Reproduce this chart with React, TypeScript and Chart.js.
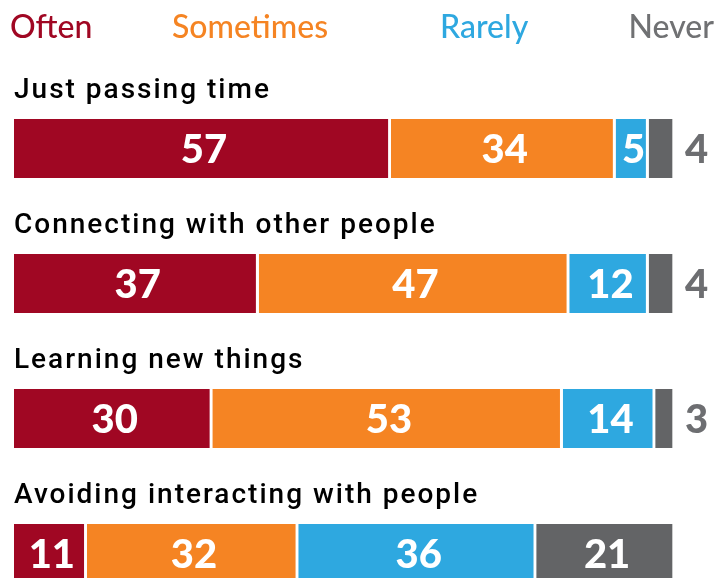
import React, { useEffect, useRef } from "react";
import { Chart, registerables } from "chart.js";

Chart.register(...registerables);

const categories = [
  "Just passing time",
  "Connecting with other people",
  "Learning new things",
  "Avoiding interacting with people",
];
const seriesNames = ["Often", "Sometimes", "Rarely", "Never"];
const often = [57, 37, 30, 11];
const sometimes = [34, 47, 53, 32];
const rarely = [5, 12, 14, 36];
const never = [4, 4, 3, 21];

const barColors = ["#A00723", "#F58423", "#2EA8E0", "#636466"];
const legendColors = ["#A00723", "#F58423", "#2EA8E0", "#707173"];
const GAP = 3;

const labelPlugin = {
  id: "labelPlugin",
  afterDatasetsDraw(chart: any) {
    const ctx = chart.ctx;
    ctx.save();
    // legend
    ctx.font = "500 32px Lato";
    ctx.textBaseline = "middle";
    const legendAnchors = [
      { x: 10, align: "left" },
      { x: 172, align: "left" },
      { x: 440, align: "left" },
      { x: 714, align: "right" },
    ];
    seriesNames.forEach((n, i) => {
      ctx.fillStyle = legendColors[i];
      ctx.textAlign = legendAnchors[i].align;
      ctx.fillText(n, legendAnchors[i].x, 28);
    });

    // category labels
    const meta0 = chart.getDatasetMeta(0);
    ctx.font = "500 28px Roboto";
    try {
      (ctx as any).letterSpacing = "2px";
    } catch (e) {}
    ctx.fillStyle = "#000";
    ctx.textAlign = "left";
    ctx.textBaseline = "alphabetic";
    meta0.data.forEach((el: any, i: number) => {
      const top = el.y - el.height / 2;
      ctx.fillText(categories[i], 14, top - 21);
    });
    try {
      (ctx as any).letterSpacing = "0px";
    } catch (e) {}

    // value labels
    ctx.font = "900 40px Lato";
    ctx.textBaseline = "middle";
    chart.data.datasets.forEach((ds: any, di: number) => {
      const meta = chart.getDatasetMeta(di);
      meta.data.forEach((el: any, i: number) => {
        const v = ds.data[i];
        const left = Math.min(el.base, el.x);
        const right = Math.max(el.base, el.x) - GAP;
        const w = right - left;
        const txt = String(v);
        const tw = ctx.measureText(txt).width;
        if (di === 3 && tw + 6 > w) {
          ctx.fillStyle = "#6D6E71";
          ctx.textAlign = "left";
          ctx.fillText(txt, Math.max(el.base, el.x) + 10, el.y + 2);
        } else {
          ctx.fillStyle = "#FFFFFF";
          ctx.textAlign = "center";
          ctx.fillText(txt, (left + right) / 2 + 3, el.y + 2);
        }
      });
    });
    ctx.restore();
  },
};

export default function App() {
  const ref = useRef<HTMLCanvasElement | null>(null);
  useEffect(() => {
    if (!ref.current) return;
    const values = [often, sometimes, rarely, never];
    const chart = new Chart(ref.current, {
      type: "bar",
      data: {
        labels: categories,
        datasets: seriesNames.map((n, i) => ({
          label: n,
          data: values[i],
          backgroundColor: barColors[i],
          borderColor: "#FFFFFF",
          borderWidth: { top: 0, bottom: 0, left: 0, right: GAP },
          borderSkipped: false,
          barThickness: 59,
        })),
      },
      options: {
        indexAxis: "y",
        responsive: false,
        animation: false,
        layout: { padding: { left: 14, right: 41, top: 81, bottom: 19 } },
        scales: {
          x: { stacked: true, min: 0, max: 100, display: false },
          y: { stacked: true, display: false },
        },
        plugins: {
          legend: { display: false },
          tooltip: { enabled: false },
        },
      },
      plugins: [labelPlugin],
    } as any);
    return () => chart.destroy();
  }, []);
  return (
    <div
      style={{
        position: "fixed",
        left: 0,
        top: 0,
        width: 716,
        height: 578,
        overflow: "hidden",
        background: "#fff",
      }}
    >
      <canvas ref={ref} width={716} height={640} style={{ display: "block" }} />
    </div>
  );
}
